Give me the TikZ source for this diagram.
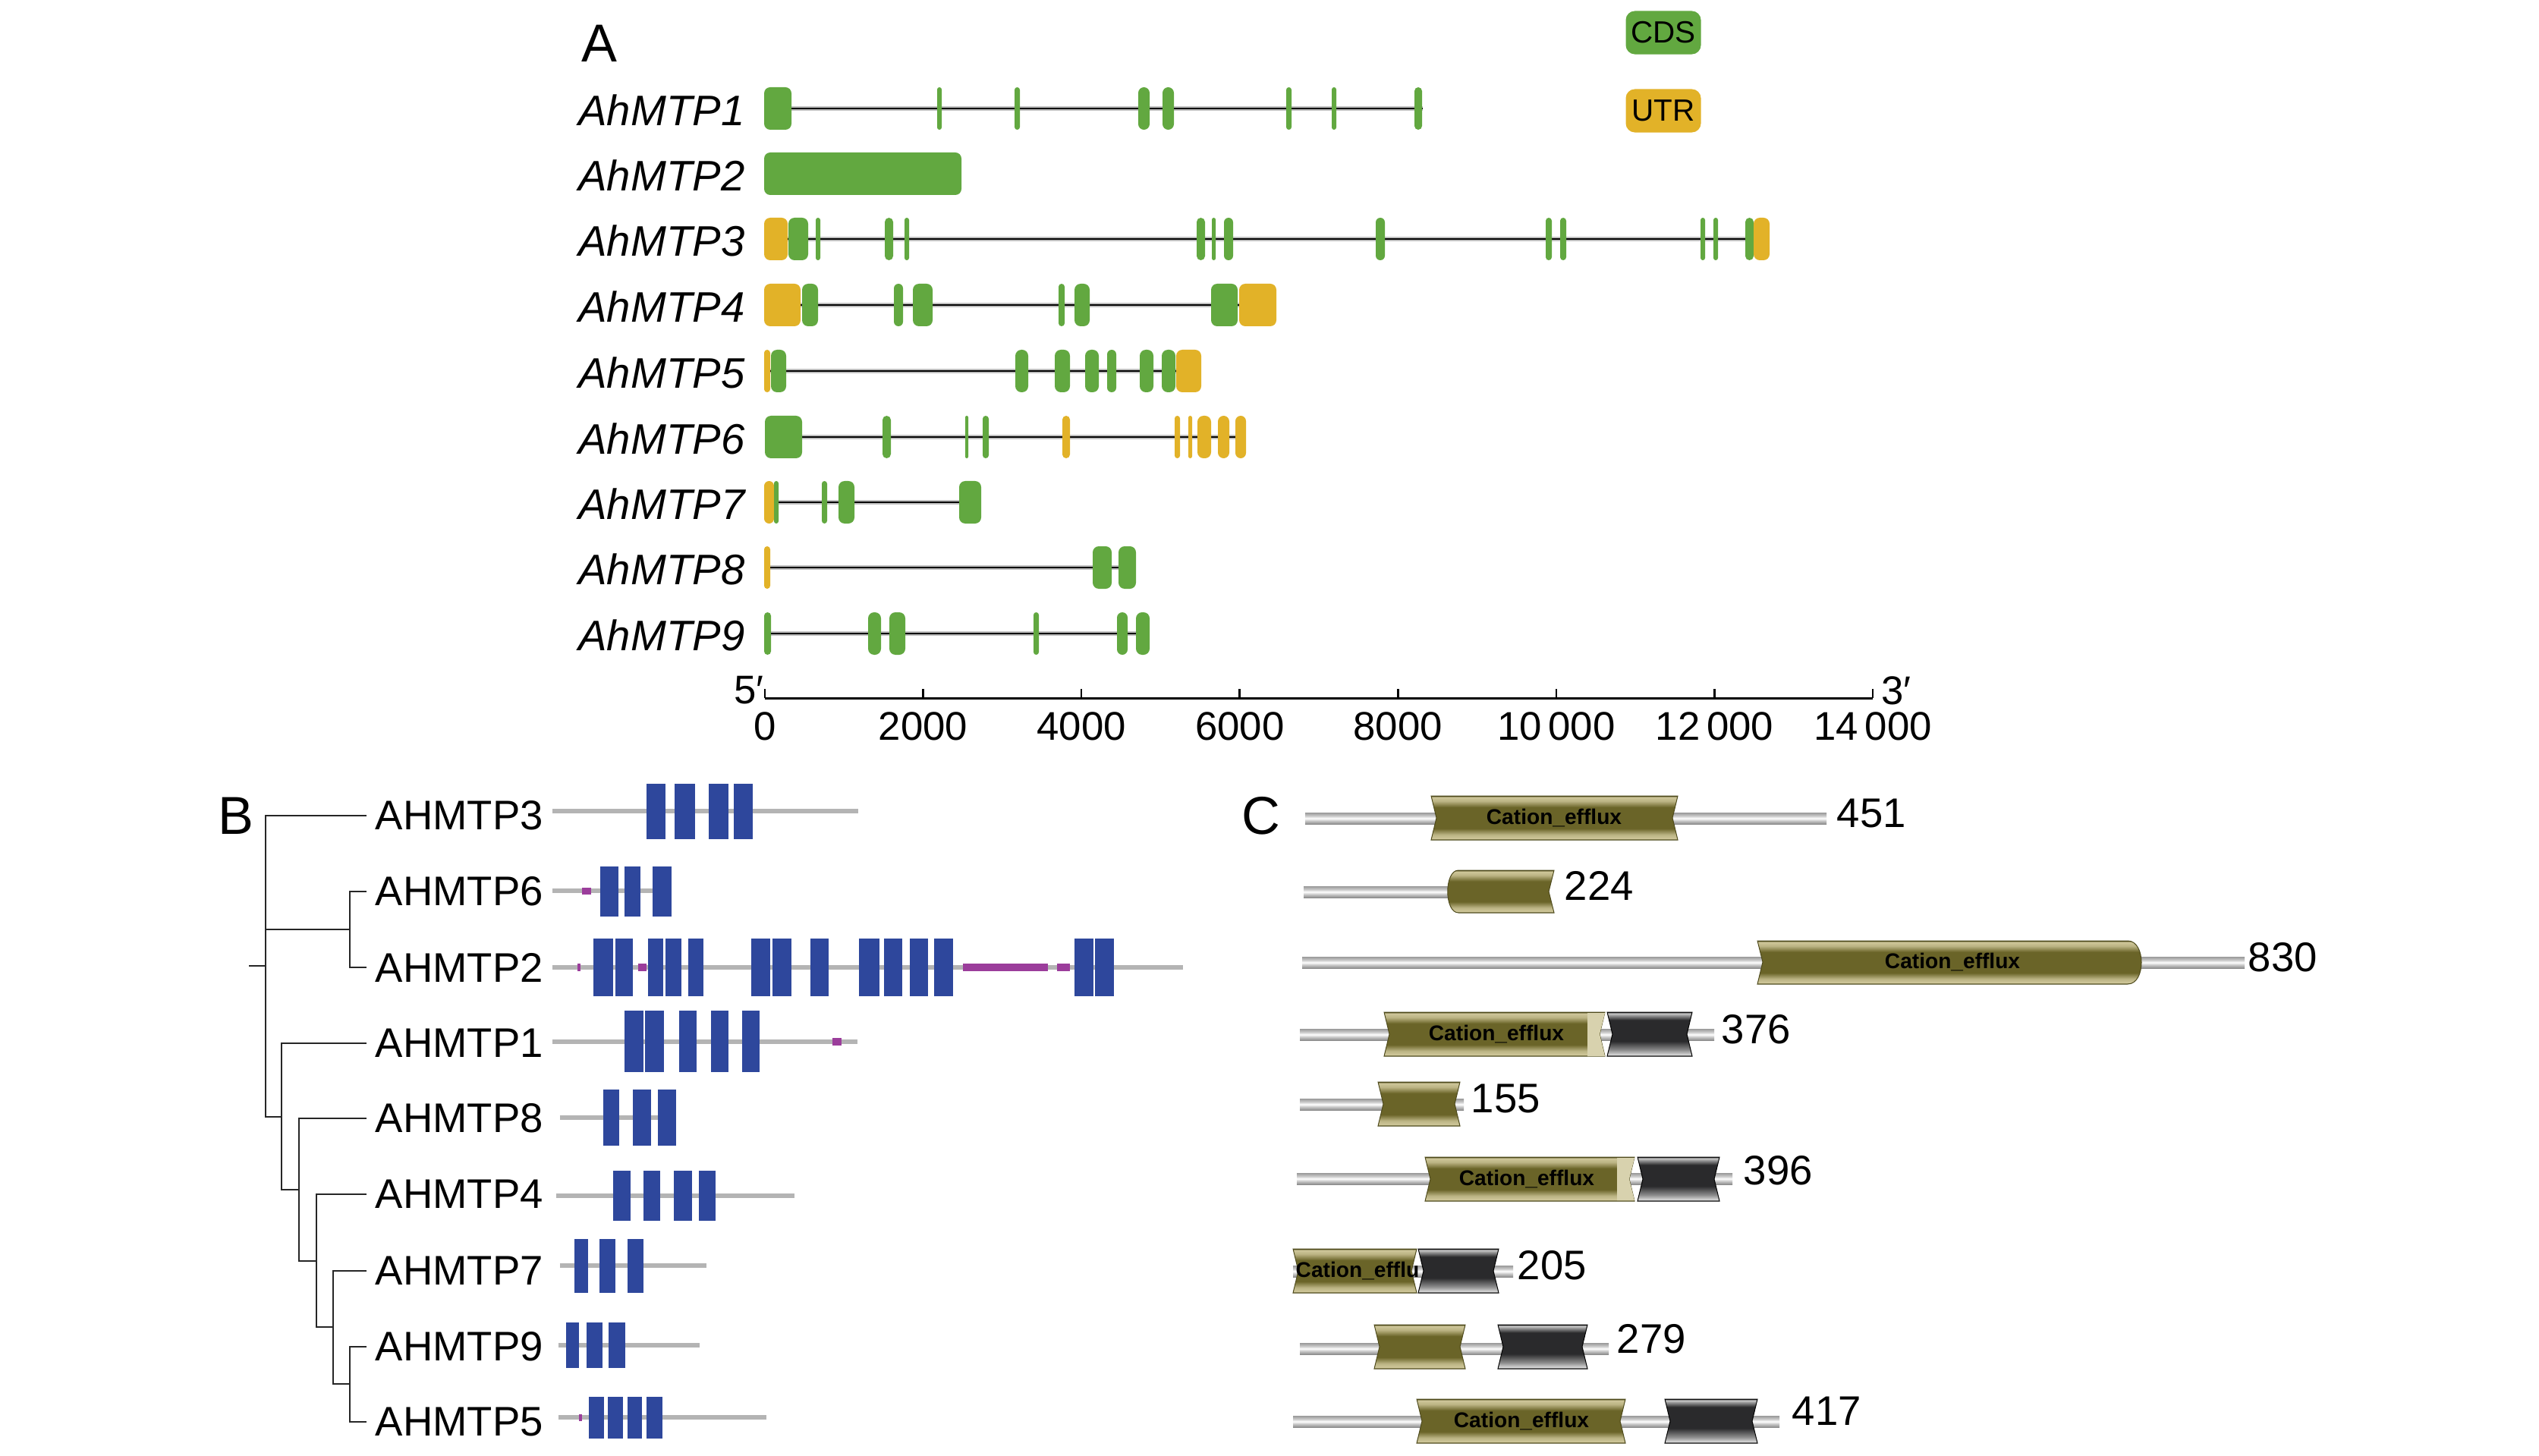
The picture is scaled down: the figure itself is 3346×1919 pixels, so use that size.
\documentclass[tikz,border=0pt]{standalone}
\usepackage{fontspec}
\setmainfont{Liberation Sans}
\definecolor{cds}{HTML}{62A840}
\definecolor{utr}{HTML}{E2B228}
\definecolor{tmblue}{HTML}{2E479C}
\definecolor{lcr}{HTML}{9B3D9B}
\definecolor{bgray}{HTML}{B4B4B4}
\definecolor{oliveD}{HTML}{6A6428}
\definecolor{oliveL}{HTML}{CFC79A}
\definecolor{oliveE}{HTML}{4E4A1C}
\definecolor{oliveF}{HTML}{D8D2AE}
\definecolor{darkD}{HTML}{2A2A2C}
\pgfdeclareverticalshading{olivesh}{100bp}{color(0bp)=(oliveE); color(25bp)=(oliveE); color(26.5bp)=(oliveL); color(31bp)=(oliveL!80!oliveD); color(38bp)=(oliveD); color(62bp)=(oliveD); color(69bp)=(oliveL!80!oliveD); color(73.5bp)=(oliveL); color(75bp)=(oliveE); color(100bp)=(oliveE)}
\pgfdeclareverticalshading{darksh}{100bp}{color(0bp)=(black); color(25bp)=(black!80); color(26.5bp)=(white!85!black); color(32bp)=(black!45); color(42bp)=(darkD); color(66bp)=(darkD); color(72bp)=(black!35); color(73.5bp)=(white!80!black); color(75bp)=(black!80); color(100bp)=(black)}
\pgfdeclareverticalshading{rodsh}{100bp}{color(0bp)=(black!45); color(25bp)=(black!45); color(40bp)=(black!20); color(50bp)=(white); color(60bp)=(black!20); color(75bp)=(black!40); color(100bp)=(black!40)}
\newcommand\ex[4]{\pgfmathsetmacro\rr{min(8,(#2-#1)/2)*0.2845}\fill[#4,rounded corners=\rr pt] (#1,#3-28) rectangle (#2,#3+28);}
\newcommand\ndom[4]{\path[#4] (#1,#3-29) -- (#2,#3-29) -- (#2-7,#3) -- (#2,#3+29) -- (#1,#3+29) -- (#1+7,#3) -- cycle;}
\newcommand\gline[3]{\draw[halo] (#1,#3) -- (#2,#3); \draw[intron] (#1,#3) -- (#2,#3);}
\begin{document}
\begin{tikzpicture}[x=0.01cm,y=-0.01cm,
  lab/.style={inner sep=0pt},
  glab/.style={lab,anchor=east,font=\fontsize{16}{18}\selectfont\itshape},
  blab/.style={lab,anchor=west,font=\fontsize{15.5}{18}\selectfont},
  plab/.style={lab,font=\fontsize{20}{22}\selectfont},
  ticklab/.style={lab,font=\fontsize{15}{17}\selectfont},
  num/.style={lab,anchor=west,font=\fontsize{15.5}{18}\selectfont},
  cef/.style={lab,font=\bfseries\fontsize{8}{9}\selectfont},
  leg/.style={rounded corners=0.12cm, minimum width=0.99cm, minimum height=0.57cm, inner sep=0pt, font=\fontsize{11.5}{13}\selectfont},
  tree/.style={line width=0.028cm, black!85},
  intron/.style={line width=0.022cm, black},
  halo/.style={line width=0.055cm, black!25},
  bline/.style={line width=0.06cm, bgray},
  rod/.style={shade, shading=rodsh},
  olv/.style={shade, shading=olivesh, draw=oliveE, line width=0.01cm},
  drk/.style={shade, shading=darksh, draw=black, line width=0.01cm},
]
\fill[white] (0,0) rectangle (3346,1919);
\useasboundingbox (0,0) rectangle (3346,1919);

% ================= Panel A =================
\node[plab] (pA) at (790,57) {A};
\node[leg, fill=cds] (lcds) at (2192,43) {CDS};
\node[leg, fill=utr] (lutr) at (2192,146) {UTR};

\foreach \n/\y in {1/145,2/231,3/317,4/404,5/491,6/578,7/664,8/750,9/837}
  {\node[glab] (a\n) at (982,\y) {AhMTP\n};}

% intron lines
\gline{1008}{1875}{143}
\gline{1008}{2332}{315}
\gline{1008}{1682}{402}
\gline{1008}{1583}{489}
\gline{1008}{1642}{576}
\gline{1008}{1293}{662}
\gline{1008}{1475}{748}
\gline{1008}{1515}{835}

% exons
\foreach \a/\b/\c in {1007/1043/cds,1235/1241/cds,1337/1344/cds,1500/1515/cds,1532/1547/cds,1695/1702/cds,1755/1761/cds,1864/1874/cds}
  {\ex{\a}{\b}{143}{\c}}
\ex{1007}{1267}{229}{cds}
\foreach \a/\b/\c in {1007/1038/utr,1039/1065/cds,1075/1081/cds,1166/1177/cds,1192/1198/cds,1577/1588/cds,1597/1602/cds,1613/1625/cds,1813/1825/cds,2037/2045/cds,2056/2064/cds,2241/2247/cds,2258/2264/cds,2300/2311/cds,2311/2332/utr}
  {\ex{\a}{\b}{315}{\c}}
\foreach \a/\b/\c in {1007/1055/utr,1057/1078/cds,1178/1190/cds,1203/1229/cds,1395/1403/cds,1416/1436/cds,1596/1631/cds,1633/1682/utr}
  {\ex{\a}{\b}{402}{\c}}
\foreach \a/\b/\c in {1007/1015/utr,1016/1036/cds,1338/1355/cds,1390/1410/cds,1430/1448/cds,1459/1471/cds,1502/1520/cds,1531/1549/cds,1550/1583/utr}
  {\ex{\a}{\b}{489}{\c}}
\foreach \a/\b/\c in {1008/1057/cds,1163/1174/cds,1272/1276/cds,1295/1303/cds,1400/1410/utr,1548/1555/utr,1566/1571/utr,1578/1596/utr,1605/1620/utr,1628/1642/utr}
  {\ex{\a}{\b}{576}{\c}}
\foreach \a/\b/\c in {1007/1020/utr,1020/1026/cds,1083/1090/cds,1105/1126/cds,1264/1293/cds}
  {\ex{\a}{\b}{662}{\c}}
\foreach \a/\b/\c in {1007/1015/utr,1440/1465/cds,1474/1497/cds}
  {\ex{\a}{\b}{748}{\c}}
\foreach \a/\b/\c in {1007/1016/cds,1144/1161/cds,1172/1193/cds,1362/1369/cds,1472/1486/cds,1497/1515/cds}
  {\ex{\a}{\b}{835}{\c}}

% axis
\coordinate (ax0) at (1008,920);
\coordinate (ax1) at (2468,920);
\draw[line width=0.03cm] (ax0) -- (ax1);
\foreach \i/\t in {0/0,1/2000,2/4000,3/6000,4/8000,5/10\,000,6/12\,000,7/14\,000}
  {\draw[line width=0.025cm] (1008+\i*208.57,920) -- ++(0,-12);
   \node[ticklab] (t\i) at (1008+\i*208.57,957) {\t};}
\node[ticklab] (p5) at (987,910) {5′};
\node[ticklab] (p3) at (2499,910) {3′};

% ================= Panel B =================
\node[plab] (pB) at (311,1075) {B};
\node[blab] (b3) at (494,1075) {AHMTP3};
\node[blab] (b6) at (494,1175) {AHMTP6};
\node[blab] (b2) at (494,1275) {AHMTP2};
\node[blab] (b1) at (494,1375) {AHMTP1};
\node[blab] (b8) at (494,1474) {AHMTP8};
\node[blab] (b4) at (494,1574) {AHMTP4};
\node[blab] (b7) at (494,1675) {AHMTP7};
\node[blab] (b9) at (494,1775) {AHMTP9};
\node[blab] (b5) at (494,1874) {AHMTP5};

\coordinate (r0) at (328,1273);
\coordinate (r1) at (350,1273);
\coordinate (n62) at (461,1225);
\coordinate (n1) at (371,1472);
\coordinate (n8) at (394,1568);
\coordinate (n4) at (417,1662);
\coordinate (n7) at (439,1749);
\coordinate (n95) at (461,1824);
\draw[tree] (r0) -- (r1);
\draw[tree] ([xshift=-0.11cm]b3.west) -| (350,1472) -- (n1);
\draw[tree] (350,1225) -- (n62);
\draw[tree] ([xshift=-0.11cm]b6.west) -| (n62) |- ([xshift=-0.11cm]b2.west);
\draw[tree] ([xshift=-0.11cm]b1.west) -| (n1) |- (n8);
\draw[tree] ([xshift=-0.11cm]b8.west) -| (n8) |- (n4);
\draw[tree] ([xshift=-0.11cm]b4.west) -| (n4) |- (n7);
\draw[tree] ([xshift=-0.11cm]b7.west) -| (n7) |- (n95);
\draw[tree] ([xshift=-0.11cm]b9.west) -| (n95) |- ([xshift=-0.11cm]b5.west);

% protein backbones
\draw[bline] (728,1069) -- (1131,1069);
\draw[bline] (728,1174) -- (860,1174);
\draw[bline] (728,1275) -- (1559,1275);
\draw[bline] (728,1373) -- (1130,1373);
\draw[bline] (738,1473) -- (869,1473);
\draw[bline] (733,1576) -- (1047,1576);
\draw[bline] (738,1668) -- (931,1668);
\draw[bline] (736,1773) -- (922,1773);
\draw[bline] (736,1868) -- (1010,1868);
% low complexity
\fill[lcr] (767,1170) rectangle (779,1179);
\foreach \a/\b in {761/765,841/852,1269/1381,1393/1410}
  {\fill[lcr] (\a,1270) rectangle (\b,1280);}
\fill[lcr] (1097,1368) rectangle (1109,1378);
\fill[lcr] (763,1864) rectangle (767,1873);
% TM helices
\foreach \a/\b in {852/877,889/916,934/960,967/992}
  {\fill[tmblue] (\a,1033) rectangle (\b,1106);}
\foreach \a/\b in {791/815,823/844,860/885}
  {\fill[tmblue] (\a,1142) rectangle (\b,1208);}
\foreach \a/\b in {782/808,811/834,854/874,877/898,907/927,990/1015,1018/1043,1068/1092,1132/1159,1165/1189,1199/1223,1231/1256,1416/1441,1443/1468}
  {\fill[tmblue] (\a,1237) rectangle (\b,1313);}
\foreach \a/\b in {823/848,850/875,895/918,937/960,978/1001}
  {\fill[tmblue] (\a,1332) rectangle (\b,1413);}
\foreach \a/\b in {795/816,834/858,867/891}
  {\fill[tmblue] (\a,1436) rectangle (\b,1510);}
\foreach \a/\b in {808/831,848/870,888/912,921/943}
  {\fill[tmblue] (\a,1543) rectangle (\b,1609);}
\foreach \a/\b in {757/775,790/811,827/848}
  {\fill[tmblue] (\a,1633) rectangle (\b,1704);}
\foreach \a/\b in {746/763,773/794,802/824}
  {\fill[tmblue] (\a,1743) rectangle (\b,1803);}
\foreach \a/\b in {776/796,801/821,827/846,852/873}
  {\fill[tmblue] (\a,1841) rectangle (\b,1896);}

% ================= Panel C =================
\node[plab] (pC) at (1662,1075) {C};
% row 1 : 451
\path[rod] (1720,1071) rectangle (2407,1086);
\ndom{1886}{2211}{1078}{olv}
\node[cef] (c1d) at (2048,1078) {Cation\_efflux};
\node[num] (c1n) at (2420,1072) {451};
% row 2 : 224
\path[rod] (1718,1168) rectangle (1910,1183);
\path[olv] (1922,1147) -- (2048,1147) -- (2041,1175) -- (2048,1203) -- (1922,1203) .. controls (1903,1203) and (1903,1147) .. (1922,1147) -- cycle;
\node[num] (c2n) at (2061,1167) {224};
% row 3 : 830
\path[rod] (1716,1261) rectangle (2958,1276);
\path[olv] (2316,1240) -- (2804,1240) .. controls (2828,1240) and (2828,1297) .. (2804,1297) -- (2316,1297) -- (2323,1268) -- cycle;
\node[cef] (c3d) at (2573,1268) {Cation\_efflux};
\node[num] (c3n) at (2962,1262) {830};
% row 4 : 376
\path[rod] (1713,1356) rectangle (2259,1371);
\ndom{1824}{2115}{1363}{olv}
\path[fill=oliveF] (2092,1335) -- (2115,1335) -- (2108,1363) -- (2115,1392) -- (2092,1392) -- cycle;
\ndom{2118}{2230}{1363}{drk}
\node[cef] (c4d) at (1972,1363) {Cation\_efflux};
\node[num] (c4n) at (2268,1357) {376};
% row 5 : 155
\path[rod] (1713,1448) rectangle (1929,1463);
\ndom{1816}{1924}{1455}{olv}
\node[num] (c5n) at (1938,1448) {155};
% row 6 : 396
\path[rod] (1709,1546) rectangle (2283,1561);
\ndom{1878}{2154}{1554}{olv}
\path[fill=oliveF] (2131,1526) -- (2154,1526) -- (2147,1554) -- (2154,1582) -- (2131,1582) -- cycle;
\ndom{2158}{2266}{1554}{drk}
\node[cef] (c6d) at (2012,1554) {Cation\_efflux};
\node[num] (c6n) at (2297,1543) {396};
% row 7 : 205
\path[rod] (1704,1668) rectangle (1994,1683);
\ndom{1704}{1867}{1675}{olv}
\ndom{1869}{1975}{1675}{drk}
\node[cef,anchor=west] (c7d) at (1707,1675) {Cation\_efflu};
\node[num] (c7n) at (1999,1668) {205};
% row 8 : 279
\path[rod] (1713,1770) rectangle (2120,1785);
\ndom{1811}{1931}{1775}{olv}
\ndom{1974}{2092}{1775}{drk}
\node[num] (c8n) at (2130,1765) {279};
% row 9 : 417
\path[rod] (1704,1866) rectangle (2345,1881);
\ndom{1867}{2142}{1873}{olv}
\ndom{2194}{2316}{1873}{drk}
\node[cef] (c9d) at (2005,1873) {Cation\_efflux};
\node[num] (c9n) at (2361,1860) {417};
\end{tikzpicture}
\end{document}
